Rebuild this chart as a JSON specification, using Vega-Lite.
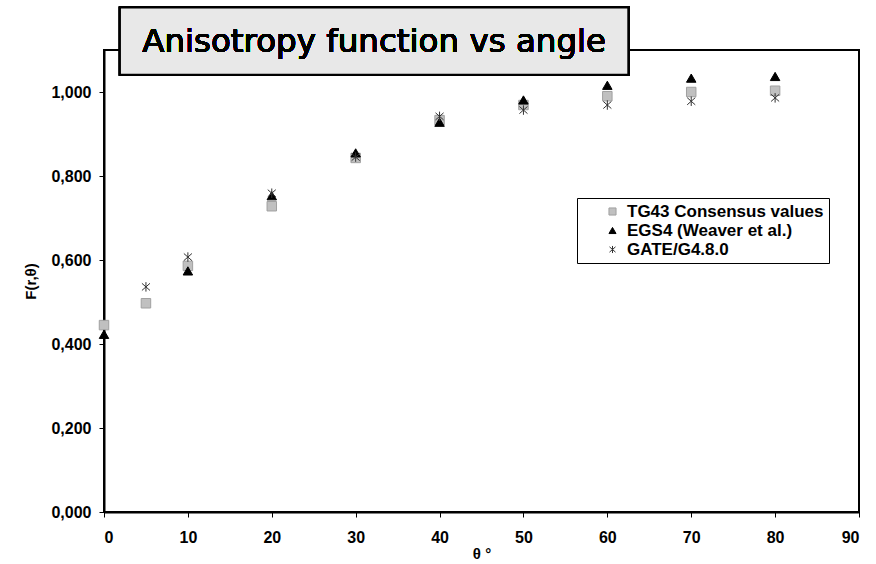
{
  "$schema": "https://vega.github.io/schema/vega-lite/v6.json",
  "width": 755,
  "height": 462,
  "autosize": "none",
  "padding": {"left": 104, "top": 50, "right": 17, "bottom": 52},
  "background": "white",
  "config": {
    "view": {"stroke": "#000000", "strokeWidth": 2},
    "axis": {
      "grid": false,
      "domainColor": "#000000",
      "domainWidth": 2,
      "tickColor": "#000000",
      "labelColor": "#000000",
      "titleColor": "#000000",
      "labelFont": "Liberation Sans",
      "titleFont": "Liberation Sans",
      "labelFontWeight": "bold",
      "titleFontWeight": "bold",
      "labelFontSize": 16,
      "titleFontSize": 15,
      "tickSize": 5
    }
  },
  "data": {
    "values": [
      {"theta": 0, "F": 0.445, "series": "TG43 Consensus values"},
      {"theta": 5, "F": 0.497, "series": "TG43 Consensus values"},
      {"theta": 10, "F": 0.586, "series": "TG43 Consensus values"},
      {"theta": 20, "F": 0.728, "series": "TG43 Consensus values"},
      {"theta": 30, "F": 0.843, "series": "TG43 Consensus values"},
      {"theta": 40, "F": 0.933, "series": "TG43 Consensus values"},
      {"theta": 50, "F": 0.969, "series": "TG43 Consensus values"},
      {"theta": 60, "F": 0.990, "series": "TG43 Consensus values"},
      {"theta": 70, "F": 1.000, "series": "TG43 Consensus values"},
      {"theta": 80, "F": 1.003, "series": "TG43 Consensus values"},
      {"theta": 0, "F": 0.423, "series": "EGS4 (Weaver et al.)"},
      {"theta": 10, "F": 0.574, "series": "EGS4 (Weaver et al.)"},
      {"theta": 20, "F": 0.753, "series": "EGS4 (Weaver et al.)"},
      {"theta": 30, "F": 0.855, "series": "EGS4 (Weaver et al.)"},
      {"theta": 40, "F": 0.928, "series": "EGS4 (Weaver et al.)"},
      {"theta": 50, "F": 0.981, "series": "EGS4 (Weaver et al.)"},
      {"theta": 60, "F": 1.016, "series": "EGS4 (Weaver et al.)"},
      {"theta": 70, "F": 1.033, "series": "EGS4 (Weaver et al.)"},
      {"theta": 80, "F": 1.037, "series": "EGS4 (Weaver et al.)"},
      {"theta": 5, "F": 0.536, "series": "GATE/G4.8.0"},
      {"theta": 10, "F": 0.607, "series": "GATE/G4.8.0"},
      {"theta": 20, "F": 0.759, "series": "GATE/G4.8.0"},
      {"theta": 30, "F": 0.845, "series": "GATE/G4.8.0"},
      {"theta": 40, "F": 0.942, "series": "GATE/G4.8.0"},
      {"theta": 50, "F": 0.957, "series": "GATE/G4.8.0"},
      {"theta": 60, "F": 0.969, "series": "GATE/G4.8.0"},
      {"theta": 70, "F": 0.978, "series": "GATE/G4.8.0"},
      {"theta": 80, "F": 0.986, "series": "GATE/G4.8.0"}
    ]
  },
  "layer": [
    {
      "mark": {"type": "point", "strokeWidth": 1, "opacity": 1, "size": 90},
      "encoding": {
        "x": {
          "field": "theta", "type": "quantitative",
          "scale": {"domain": [0, 90], "nice": false},
          "axis": {"values": [0, 10, 20, 30, 40, 50, 60, 70, 80, 90], "title": "θ °", "titlePadding": 1, "labelPadding": 12}
        },
        "y": {
          "field": "F", "type": "quantitative",
          "scale": {"domain": [0, 1.1], "nice": false},
          "axis": {
            "values": [0, 0.2, 0.4, 0.6, 0.8, 1.0],
            "labelExpr": "replace(format(datum.value, '.3f'), '.', ',')",
            "title": "F(r,θ)",
            "titlePadding": 12,
            "labelPadding": 8
          }
        },
        "shape": {
          "field": "series", "type": "nominal",
          "scale": {
            "domain": ["TG43 Consensus values", "EGS4 (Weaver et al.)", "GATE/G4.8.0"],
            "range": ["square", "triangle-up", "M0,-1V1M-0.85,-0.75L0.85,0.75M-0.85,0.75L0.85,-0.75"]
          },
          "legend": {
            "title": null,
            "orient": "none",
            "legendX": 473,
            "legendY": 148,
            "direction": "vertical",
            "fillColor": "white",
            "strokeColor": "#000000",
            "padding": 5,
            "symbolOffset": 22,
            "labelFont": "Liberation Sans",
            "labelFontWeight": "bold",
            "labelFontSize": 17,
            "labelColor": "#000000",
            "symbolSize": 50,
            "rowPadding": 1,
            "labelOffset": 6,
            "labelLimit": 300,
            "symbolStrokeWidth": 1
          }
        },
        "fill": {
          "field": "series", "type": "nominal",
          "scale": {
            "domain": ["TG43 Consensus values", "EGS4 (Weaver et al.)", "GATE/G4.8.0"],
            "range": ["#c0c0c0", "#000000", "transparent"]
          },
          "legend": null
        },
        "stroke": {
          "field": "series", "type": "nominal",
          "scale": {
            "domain": ["TG43 Consensus values", "EGS4 (Weaver et al.)", "GATE/G4.8.0"],
            "range": ["#a0a0a0", "#000000", "#333333"]
          },
          "legend": null
        }
      }
    },
    {
      "mark": {"type": "rect", "fill": "#e8e8e8", "stroke": "#000000", "strokeWidth": 2},
      "encoding": {
        "x": {"datum": 1.9},
        "x2": {"datum": 62.5},
        "y": {"datum": 1.041},
        "y2": {"datum": 1.201}
      }
    },
    {
      "mark": {"type": "text", "font": "DejaVu Sans", "fontSize": 32.5, "fontWeight": "normal", "align": "center", "baseline": "middle", "color": "#000000"},
      "encoding": {
        "x": {"datum": 32.2},
        "y": {"datum": 1.118},
        "text": {"value": "Anisotropy function vs angle"}
      }
    }
  ]
}
